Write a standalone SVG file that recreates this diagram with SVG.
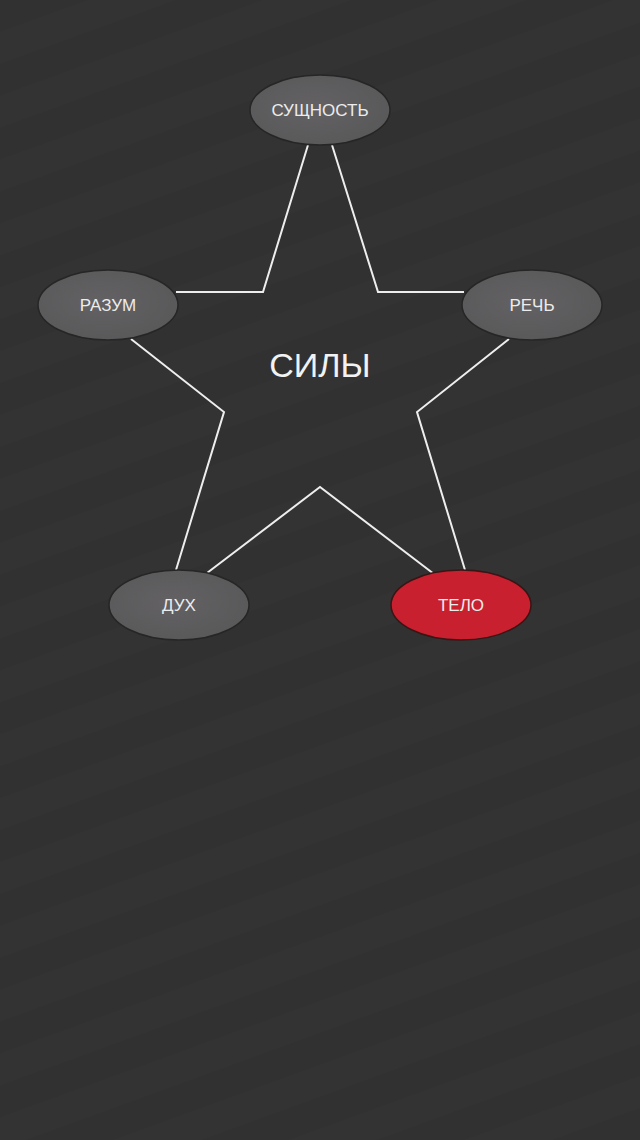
<svg xmlns="http://www.w3.org/2000/svg" width="640" height="1140" viewBox="0 0 640 1140">
<defs>
<pattern id="stripes" patternUnits="userSpaceOnUse" width="60" height="60" patternTransform="rotate(-20)">
<rect width="60" height="60" fill="#333334"/>
<rect width="60" height="30" fill="#313132"/>
</pattern>
<radialGradient id="gray" cx="0.45" cy="0.45" r="0.7">
<stop offset="0" stop-color="#636163"/>
<stop offset="1" stop-color="#575758"/>
</radialGradient>
</defs>
<style>
.node{fill:url(#gray);stroke:#262626;stroke-width:1.5}
.red{fill:#c8202e;stroke:#3a1515;stroke-width:1.5}
.lbl{font-family:"Liberation Sans",Arial,sans-serif;font-size:17px;fill:#ececec;text-anchor:middle}
.title{font-family:"Liberation Sans",Arial,sans-serif;font-size:34px;fill:#f2f2f2;text-anchor:middle}
.edge{fill:none;stroke:#eeeeee;stroke-width:2;stroke-linejoin:miter}
</style>
<rect width="640" height="1140" fill="url(#stripes)"/>
<g id="connectors">
<polyline class="edge" points="308,145 263,292 176,292"/>
<polyline class="edge" points="332,145 378,292 464,292"/>
<polyline class="edge" points="131,339 224,412 176,570"/>
<polyline class="edge" points="509,339 417,412 465,570"/>
<polyline class="edge" points="207,573 320,487 434,574"/>
</g>
<g id="node-sushchnost">
<ellipse class="node" cx="320" cy="110" rx="70" ry="35"/>
<text class="lbl" x="320" y="116">СУЩНОСТЬ</text>
</g>
<g id="node-razum">
<ellipse class="node" cx="108" cy="305" rx="70" ry="35"/>
<text class="lbl" x="108" y="311">РАЗУМ</text>
</g>
<g id="node-rech">
<ellipse class="node" cx="532" cy="305" rx="70" ry="35"/>
<text class="lbl" x="532" y="311">РЕЧЬ</text>
</g>
<g id="node-dukh">
<ellipse class="node" cx="179" cy="605" rx="70" ry="35"/>
<text class="lbl" x="179" y="611">ДУХ</text>
</g>
<g id="node-telo">
<ellipse class="red" cx="461" cy="605" rx="70" ry="35"/>
<text class="lbl" x="461" y="611">ТЕЛО</text>
</g>
<g id="title">
<text class="title" x="320" y="377">СИЛЫ</text>
</g>
</svg>
